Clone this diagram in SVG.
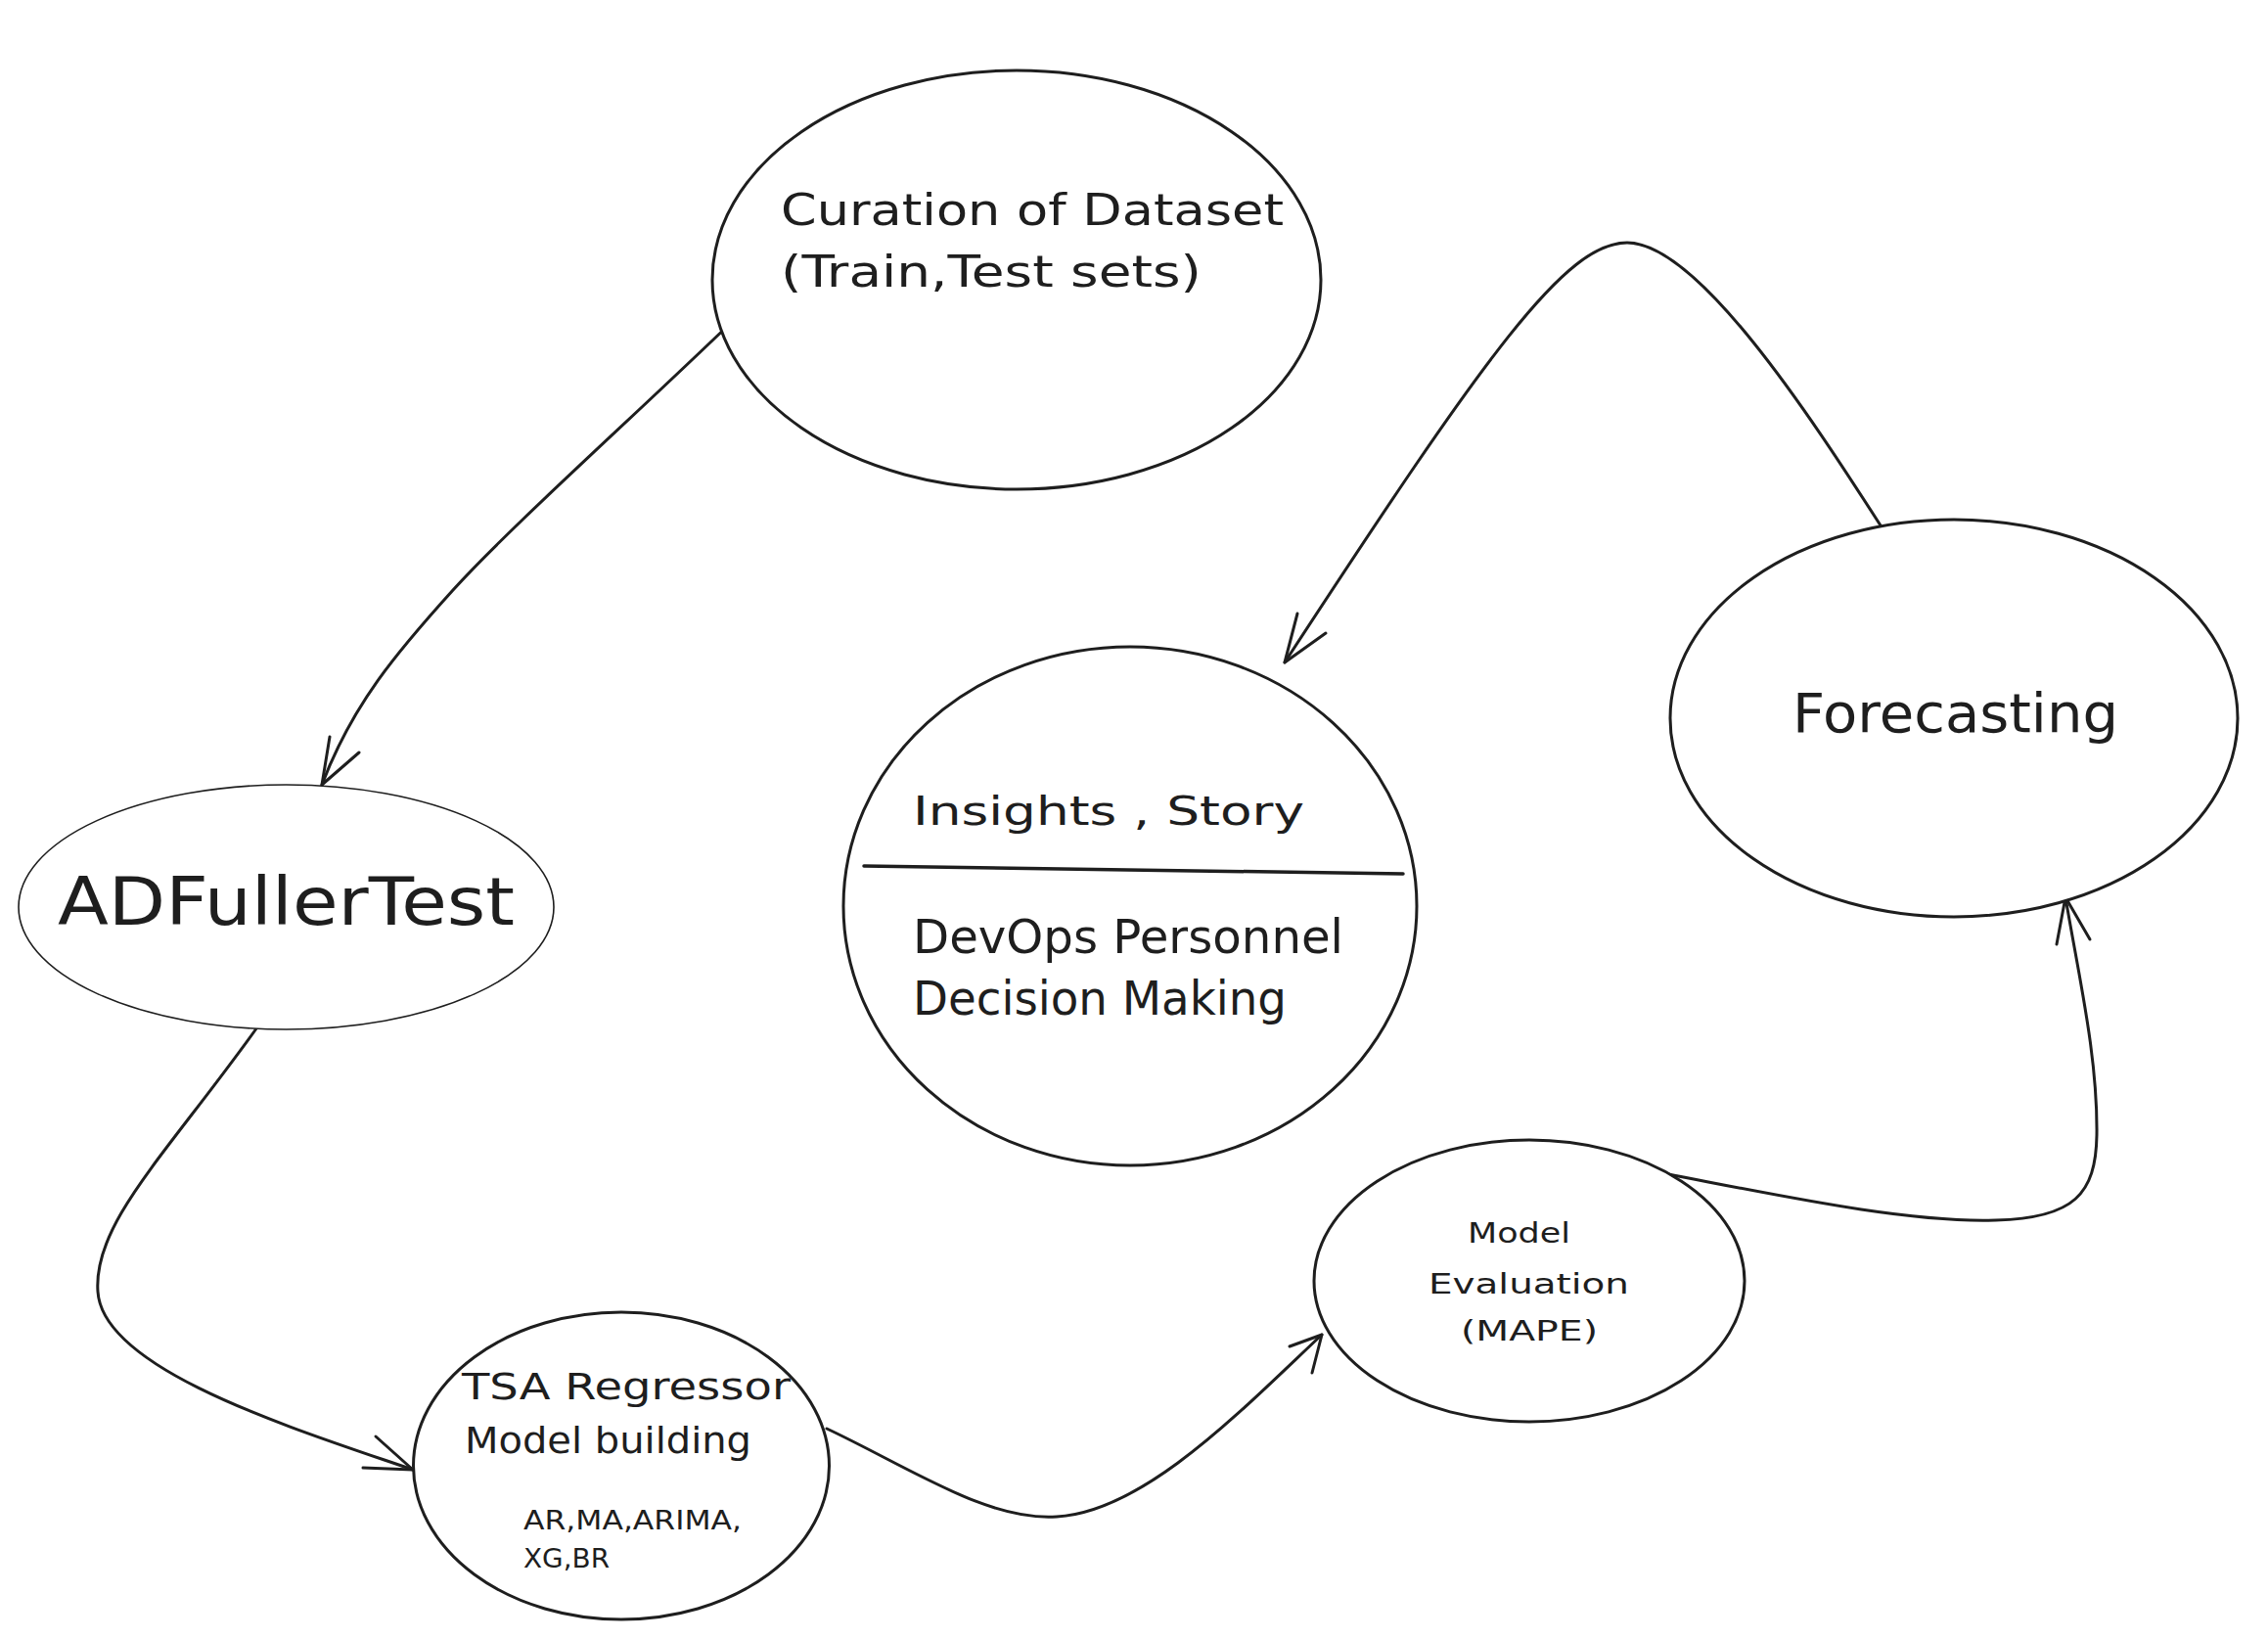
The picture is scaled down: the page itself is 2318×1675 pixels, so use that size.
<svg xmlns="http://www.w3.org/2000/svg" width="2318" height="1675" viewBox="0 0 2318 1675">
  <style>
    .shape { fill: #ffffff; stroke: #1e1e1e; stroke-width: 3; }
    .thin { stroke-width: 1.6; }
    .edge { fill: none; stroke: #1e1e1e; stroke-width: 3; stroke-linecap: round; stroke-linejoin: round; }
    .label { font-family: "DejaVu Sans", "Liberation Sans", sans-serif; fill: #1e1e1e; }
  </style>
  <rect x="0" y="0" width="2318" height="1675" fill="#ffffff"/>

  <!-- connectors -->
  <g id="connectors">
    <!-- dataset curation to ADFuller test -->
    <path class="edge" d="M750,327 C640,433 520,540 463,603 S360,720 329,802"/>
    <path class="edge" d="M337,753 L329,802 L367,769"/>
    <!-- ADFuller test to TSA regressor -->
    <path class="edge" d="M265,1047 C170,1180 95,1250 100,1320 C105,1400 300,1460 422,1502"/>
    <path class="edge" d="M384,1468 L422,1502 L371,1500"/>
    <!-- TSA regressor to model evaluation -->
    <path class="edge" d="M845,1460 C930,1500 1010,1555 1080,1550 C1170,1545 1270,1440 1351,1364"/>
    <path class="edge" d="M1318,1376 L1351,1364 L1341,1403"/>
    <!-- model evaluation to forecasting -->
    <path class="edge" d="M1705,1200 C1820,1222 1950,1250 2040,1247 C2120,1245 2142,1220 2143,1160 C2144,1080 2125,1000 2111,917"/>
    <path class="edge" d="M2102,965 L2111,917 L2136,960"/>
    <!-- forecasting to insights -->
    <path class="edge" d="M1922,537 C1850,425 1735,248 1663,248 C1600,248 1520,360 1313,677"/>
    <path class="edge" d="M1326,627 L1313,677 L1355,647"/>
  </g>

  <g id="curation">
    <ellipse class="shape" cx="1039" cy="286" rx="311" ry="214"/>
    <text class="label" x="798" y="230" font-size="44" textLength="514" lengthAdjust="spacingAndGlyphs">Curation of Dataset</text>
    <text class="label" x="798" y="293" font-size="44" textLength="430" lengthAdjust="spacingAndGlyphs">(Train,Test sets)</text>
  </g>

  <g id="adfuller">
    <ellipse class="shape thin" cx="292.5" cy="927" rx="273.5" ry="125"/>
    <text class="label" x="59" y="945" font-size="68" textLength="467" lengthAdjust="spacingAndGlyphs">ADFullerTest</text>
  </g>

  <g id="insights">
    <ellipse class="shape" cx="1155" cy="926" rx="293" ry="265"/>
    <text class="label" x="933" y="843" font-size="41" textLength="400" lengthAdjust="spacingAndGlyphs">Insights , Story</text>
    <line x1="883" y1="885" x2="1434" y2="893" stroke="#1e1e1e" stroke-width="3.5" stroke-linecap="round"/>
    <text class="label" x="933" y="974" font-size="48" textLength="440" lengthAdjust="spacingAndGlyphs">DevOps Personnel</text>
    <text class="label" x="933" y="1037" font-size="48" textLength="382" lengthAdjust="spacingAndGlyphs">Decision Making</text>
  </g>

  <g id="forecasting">
    <ellipse class="shape" cx="1997" cy="734" rx="290" ry="203"/>
    <text class="label" x="1832" y="748" font-size="56" textLength="333" lengthAdjust="spacingAndGlyphs">Forecasting</text>
  </g>

  <g id="tsa-regressor">
    <ellipse class="shape" cx="635" cy="1498" rx="212.5" ry="157"/>
    <text class="label" x="472" y="1430" font-size="38" textLength="336" lengthAdjust="spacingAndGlyphs">TSA Regressor</text>
    <text class="label" x="475" y="1485" font-size="38" textLength="293" lengthAdjust="spacingAndGlyphs">Model building</text>
    <text class="label" x="535" y="1563" font-size="27" textLength="223" lengthAdjust="spacingAndGlyphs">AR,MA,ARIMA,</text>
    <text class="label" x="535" y="1602" font-size="27" textLength="88" lengthAdjust="spacingAndGlyphs">XG,BR</text>
  </g>

  <g id="model-evaluation">
    <ellipse class="shape" cx="1563" cy="1309" rx="220" ry="144"/>
    <text class="label" x="1500" y="1270" font-size="29" textLength="105" lengthAdjust="spacingAndGlyphs">Model</text>
    <text class="label" x="1460" y="1322" font-size="29" textLength="205" lengthAdjust="spacingAndGlyphs">Evaluation</text>
    <text class="label" x="1493" y="1370" font-size="29" textLength="140" lengthAdjust="spacingAndGlyphs">(MAPE)</text>
  </g>
</svg>
